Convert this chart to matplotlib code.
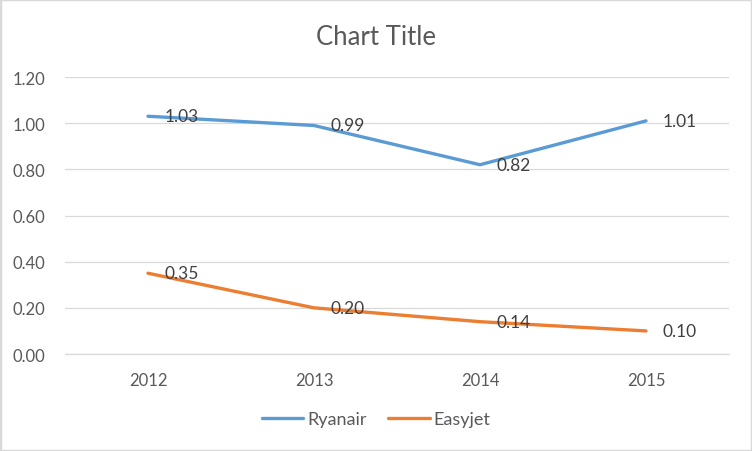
import numpy as np
import matplotlib.pyplot as plt
from matplotlib.patches import Rectangle

years = ['2012', '2013', '2014', '2015']
ryanair = [1.03, 0.99, 0.82, 1.01]
easyjet = [0.35, 0.20, 0.14, 0.10]

plt.rcParams['font.family'] = ['Lato', 'DejaVu Sans']
text_color = '#595959'
grid_color = '#D9D9D9'

fig = plt.figure(figsize=(7.52, 4.52), dpi=100)
ax = fig.add_axes([0.0864, 0.2146, 0.883, 0.6128])

x = np.arange(len(years))
ax.plot(x, ryanair, color='#5B9BD5', linewidth=2.4, solid_capstyle='round', label='Ryanair')
ax.plot(x, easyjet, color='#ED7D31', linewidth=2.4, solid_capstyle='round', label='Easyjet')

# data labels to the right of each point
for xi, v in zip(x, ryanair):
    ax.annotate(f'{v:.2f}', (xi, v), xytext=(12, 0), textcoords='offset points',
                va='center', ha='left', fontsize=12.5, color='#404040')
for xi, v in zip(x, easyjet):
    ax.annotate(f'{v:.2f}', (xi, v), xytext=(12, 0), textcoords='offset points',
                va='center', ha='left', fontsize=12.5, color='#404040')

ax.set_xlim(-0.5, len(years) - 0.5)
ax.set_ylim(0, 1.2)
ax.set_yticks(np.arange(0, 1.21, 0.2))
ax.set_yticklabels([f'{t:.2f}' for t in np.arange(0, 1.21, 0.2)])
ax.set_xticks(x)
ax.set_xticklabels(years)
ax.tick_params(axis='both', length=0, labelsize=12, colors=text_color)
ax.tick_params(axis='y', pad=14)
ax.tick_params(axis='x', pad=13)
ax.grid(axis='y', color=grid_color, linewidth=0.9)
ax.set_axisbelow(True)
for s in ['top', 'right', 'left']:
    ax.spines[s].set_visible(False)
ax.spines['bottom'].set_color(grid_color)
ax.spines['bottom'].set_linewidth(0.9)

fig.text(0.5, 0.918, 'Chart Title', ha='center', va='center', fontsize=18.5, color=text_color)

fig.legend(loc='center', bbox_to_anchor=(0.5, 0.07), ncol=2, frameon=False,
           fontsize=13, labelcolor=text_color, handlelength=2.3, handletextpad=0.2,
           columnspacing=1.2)

fig.patches.append(Rectangle((0, 0), 1, 1, transform=fig.transFigure, fill=False,
                             edgecolor=grid_color, linewidth=2.5))

fig.savefig('out.png', dpi=100)
